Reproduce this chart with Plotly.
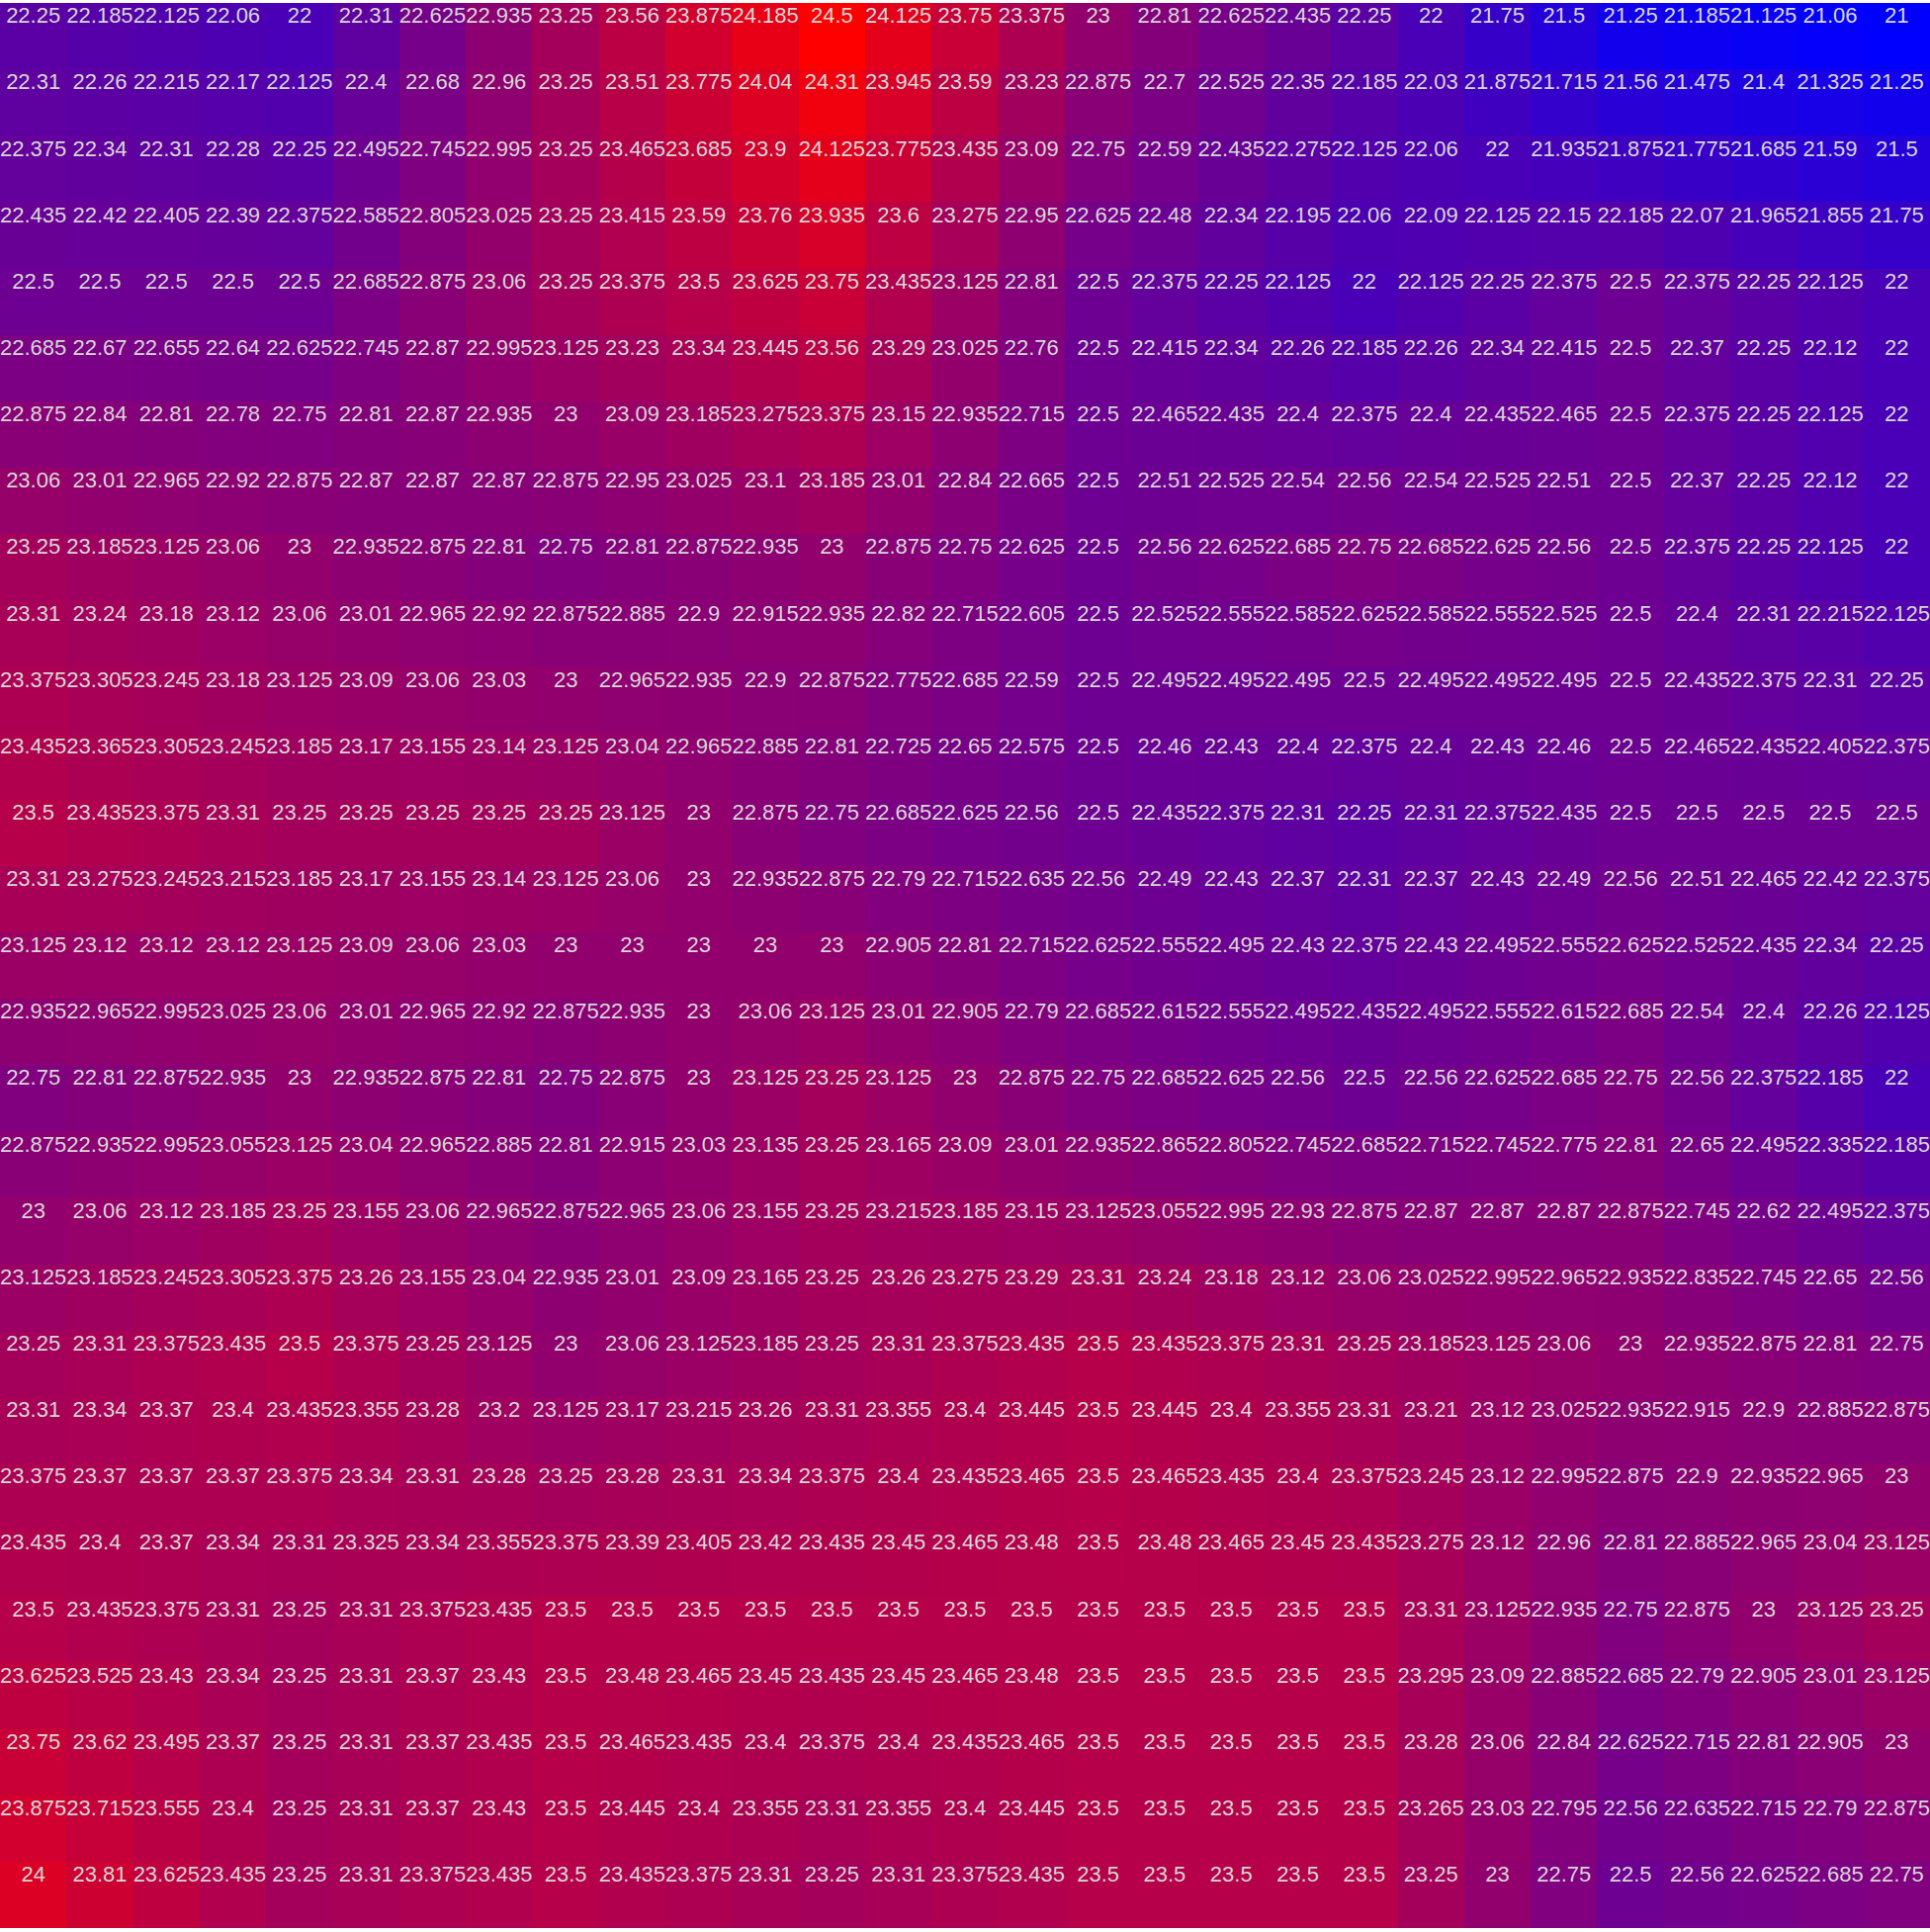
import plotly.graph_objects as go

rows = [
    [22.25, 22.185, 22.125, 22.06, 22, 22.31, 22.625, 22.935, 23.25, 23.56, 23.875, 24.185, 24.5, 24.125, 23.75, 23.375, 23, 22.81, 22.625, 22.435, 22.25, 22, 21.75, 21.5, 21.25, 21.185, 21.125, 21.06, 21],
    [22.31, 22.26, 22.215, 22.17, 22.125, 22.4, 22.68, 22.96, 23.25, 23.51, 23.775, 24.04, 24.31, 23.945, 23.59, 23.23, 22.875, 22.7, 22.525, 22.35, 22.185, 22.03, 21.875, 21.715, 21.56, 21.475, 21.4, 21.325, 21.25],
    [22.375, 22.34, 22.31, 22.28, 22.25, 22.495, 22.745, 22.995, 23.25, 23.465, 23.685, 23.9, 24.125, 23.775, 23.435, 23.09, 22.75, 22.59, 22.435, 22.275, 22.125, 22.06, 22, 21.935, 21.875, 21.775, 21.685, 21.59, 21.5],
    [22.435, 22.42, 22.405, 22.39, 22.375, 22.585, 22.805, 23.025, 23.25, 23.415, 23.59, 23.76, 23.935, 23.6, 23.275, 22.95, 22.625, 22.48, 22.34, 22.195, 22.06, 22.09, 22.125, 22.15, 22.185, 22.07, 21.965, 21.855, 21.75],
    [22.5, 22.5, 22.5, 22.5, 22.5, 22.685, 22.875, 23.06, 23.25, 23.375, 23.5, 23.625, 23.75, 23.435, 23.125, 22.81, 22.5, 22.375, 22.25, 22.125, 22, 22.125, 22.25, 22.375, 22.5, 22.375, 22.25, 22.125, 22],
    [22.685, 22.67, 22.655, 22.64, 22.625, 22.745, 22.87, 22.995, 23.125, 23.23, 23.34, 23.445, 23.56, 23.29, 23.025, 22.76, 22.5, 22.415, 22.34, 22.26, 22.185, 22.26, 22.34, 22.415, 22.5, 22.37, 22.25, 22.12, 22],
    [22.875, 22.84, 22.81, 22.78, 22.75, 22.81, 22.87, 22.935, 23, 23.09, 23.185, 23.275, 23.375, 23.15, 22.935, 22.715, 22.5, 22.465, 22.435, 22.4, 22.375, 22.4, 22.435, 22.465, 22.5, 22.375, 22.25, 22.125, 22],
    [23.06, 23.01, 22.965, 22.92, 22.875, 22.87, 22.87, 22.87, 22.875, 22.95, 23.025, 23.1, 23.185, 23.01, 22.84, 22.665, 22.5, 22.51, 22.525, 22.54, 22.56, 22.54, 22.525, 22.51, 22.5, 22.37, 22.25, 22.12, 22],
    [23.25, 23.185, 23.125, 23.06, 23, 22.935, 22.875, 22.81, 22.75, 22.81, 22.875, 22.935, 23, 22.875, 22.75, 22.625, 22.5, 22.56, 22.625, 22.685, 22.75, 22.685, 22.625, 22.56, 22.5, 22.375, 22.25, 22.125, 22],
    [23.31, 23.24, 23.18, 23.12, 23.06, 23.01, 22.965, 22.92, 22.875, 22.885, 22.9, 22.915, 22.935, 22.82, 22.715, 22.605, 22.5, 22.525, 22.555, 22.585, 22.625, 22.585, 22.555, 22.525, 22.5, 22.4, 22.31, 22.215, 22.125],
    [23.375, 23.305, 23.245, 23.18, 23.125, 23.09, 23.06, 23.03, 23, 22.965, 22.935, 22.9, 22.875, 22.775, 22.685, 22.59, 22.5, 22.495, 22.495, 22.495, 22.5, 22.495, 22.495, 22.495, 22.5, 22.435, 22.375, 22.31, 22.25],
    [23.435, 23.365, 23.305, 23.245, 23.185, 23.17, 23.155, 23.14, 23.125, 23.04, 22.965, 22.885, 22.81, 22.725, 22.65, 22.575, 22.5, 22.46, 22.43, 22.4, 22.375, 22.4, 22.43, 22.46, 22.5, 22.465, 22.435, 22.405, 22.375],
    [23.5, 23.435, 23.375, 23.31, 23.25, 23.25, 23.25, 23.25, 23.25, 23.125, 23, 22.875, 22.75, 22.685, 22.625, 22.56, 22.5, 22.435, 22.375, 22.31, 22.25, 22.31, 22.375, 22.435, 22.5, 22.5, 22.5, 22.5, 22.5],
    [23.31, 23.275, 23.245, 23.215, 23.185, 23.17, 23.155, 23.14, 23.125, 23.06, 23, 22.935, 22.875, 22.79, 22.715, 22.635, 22.56, 22.49, 22.43, 22.37, 22.31, 22.37, 22.43, 22.49, 22.56, 22.51, 22.465, 22.42, 22.375],
    [23.125, 23.12, 23.12, 23.12, 23.125, 23.09, 23.06, 23.03, 23, 23, 23, 23, 23, 22.905, 22.81, 22.715, 22.625, 22.555, 22.495, 22.43, 22.375, 22.43, 22.495, 22.555, 22.625, 22.525, 22.435, 22.34, 22.25],
    [22.935, 22.965, 22.995, 23.025, 23.06, 23.01, 22.965, 22.92, 22.875, 22.935, 23, 23.06, 23.125, 23.01, 22.905, 22.79, 22.685, 22.615, 22.555, 22.495, 22.435, 22.495, 22.555, 22.615, 22.685, 22.54, 22.4, 22.26, 22.125],
    [22.75, 22.81, 22.875, 22.935, 23, 22.935, 22.875, 22.81, 22.75, 22.875, 23, 23.125, 23.25, 23.125, 23, 22.875, 22.75, 22.685, 22.625, 22.56, 22.5, 22.56, 22.625, 22.685, 22.75, 22.56, 22.375, 22.185, 22],
    [22.875, 22.935, 22.995, 23.055, 23.125, 23.04, 22.965, 22.885, 22.81, 22.915, 23.03, 23.135, 23.25, 23.165, 23.09, 23.01, 22.935, 22.865, 22.805, 22.745, 22.685, 22.715, 22.745, 22.775, 22.81, 22.65, 22.495, 22.335, 22.185],
    [23, 23.06, 23.12, 23.185, 23.25, 23.155, 23.06, 22.965, 22.875, 22.965, 23.06, 23.155, 23.25, 23.215, 23.185, 23.15, 23.125, 23.055, 22.995, 22.93, 22.875, 22.87, 22.87, 22.87, 22.875, 22.745, 22.62, 22.495, 22.375],
    [23.125, 23.185, 23.245, 23.305, 23.375, 23.26, 23.155, 23.04, 22.935, 23.01, 23.09, 23.165, 23.25, 23.26, 23.275, 23.29, 23.31, 23.24, 23.18, 23.12, 23.06, 23.025, 22.995, 22.965, 22.935, 22.835, 22.745, 22.65, 22.56],
    [23.25, 23.31, 23.375, 23.435, 23.5, 23.375, 23.25, 23.125, 23, 23.06, 23.125, 23.185, 23.25, 23.31, 23.375, 23.435, 23.5, 23.435, 23.375, 23.31, 23.25, 23.185, 23.125, 23.06, 23, 22.935, 22.875, 22.81, 22.75],
    [23.31, 23.34, 23.37, 23.4, 23.435, 23.355, 23.28, 23.2, 23.125, 23.17, 23.215, 23.26, 23.31, 23.355, 23.4, 23.445, 23.5, 23.445, 23.4, 23.355, 23.31, 23.21, 23.12, 23.025, 22.935, 22.915, 22.9, 22.885, 22.875],
    [23.375, 23.37, 23.37, 23.37, 23.375, 23.34, 23.31, 23.28, 23.25, 23.28, 23.31, 23.34, 23.375, 23.4, 23.435, 23.465, 23.5, 23.465, 23.435, 23.4, 23.375, 23.245, 23.12, 22.995, 22.875, 22.9, 22.935, 22.965, 23],
    [23.435, 23.4, 23.37, 23.34, 23.31, 23.325, 23.34, 23.355, 23.375, 23.39, 23.405, 23.42, 23.435, 23.45, 23.465, 23.48, 23.5, 23.48, 23.465, 23.45, 23.435, 23.275, 23.12, 22.96, 22.81, 22.885, 22.965, 23.04, 23.125],
    [23.5, 23.435, 23.375, 23.31, 23.25, 23.31, 23.375, 23.435, 23.5, 23.5, 23.5, 23.5, 23.5, 23.5, 23.5, 23.5, 23.5, 23.5, 23.5, 23.5, 23.5, 23.31, 23.125, 22.935, 22.75, 22.875, 23, 23.125, 23.25],
    [23.625, 23.525, 23.43, 23.34, 23.25, 23.31, 23.37, 23.43, 23.5, 23.48, 23.465, 23.45, 23.435, 23.45, 23.465, 23.48, 23.5, 23.5, 23.5, 23.5, 23.5, 23.295, 23.09, 22.885, 22.685, 22.79, 22.905, 23.01, 23.125],
    [23.75, 23.62, 23.495, 23.37, 23.25, 23.31, 23.37, 23.435, 23.5, 23.465, 23.435, 23.4, 23.375, 23.4, 23.435, 23.465, 23.5, 23.5, 23.5, 23.5, 23.5, 23.28, 23.06, 22.84, 22.625, 22.715, 22.81, 22.905, 23],
    [23.875, 23.715, 23.555, 23.4, 23.25, 23.31, 23.37, 23.43, 23.5, 23.445, 23.4, 23.355, 23.31, 23.355, 23.4, 23.445, 23.5, 23.5, 23.5, 23.5, 23.5, 23.265, 23.03, 22.795, 22.56, 22.635, 22.715, 22.79, 22.875],
    [24, 23.81, 23.625, 23.435, 23.25, 23.31, 23.375, 23.435, 23.5, 23.435, 23.375, 23.31, 23.25, 23.31, 23.375, 23.435, 23.5, 23.5, 23.5, 23.5, 23.5, 23.25, 23, 22.75, 22.5, 22.56, 22.625, 22.685, 22.75],
]

n_rows = len(rows)
n_cols = len(rows[0])
col_idx = list(range(n_cols))
row_idx = list(range(n_rows))

def fmt(v):
    return ("%.3f" % v).rstrip("0").rstrip(".")

tx, ty, tt = [], [], []
for i, r in enumerate(rows):
    for j, v in enumerate(r):
        tx.append(j)
        ty.append(i - 0.28)
        tt.append(fmt(v))

fig = go.Figure()
fig.add_trace(go.Heatmap(
    z=rows, x=col_idx, y=row_idx,
    colorscale=[[0, "rgb(0,0,255)"], [1, "rgb(255,0,0)"]],
    showscale=False, hoverinfo="skip",
))
fig.add_trace(go.Scatter(
    x=tx, y=ty, text=tt, mode="text",
    textposition="middle center",
    textfont=dict(family="Liberation Sans, Arial, sans-serif", size=22, color="#d6d6d6"),
    hoverinfo="skip", showlegend=False, cliponaxis=True,
))
fig.update_xaxes(visible=False, range=[-0.5, n_cols - 0.5])
fig.update_yaxes(visible=False, range=[n_rows - 0.5, -0.5])
fig.update_layout(
    width=1952, height=1954,
    margin=dict(l=0, r=0, t=3, b=4),
    paper_bgcolor="white", plot_bgcolor="white",
    showlegend=False,
)
fig.write_html(
    "out.html",
    config={"displayModeBar": False},
    post_script="document.body.style.margin='0';document.body.style.overflow='hidden';",
)
